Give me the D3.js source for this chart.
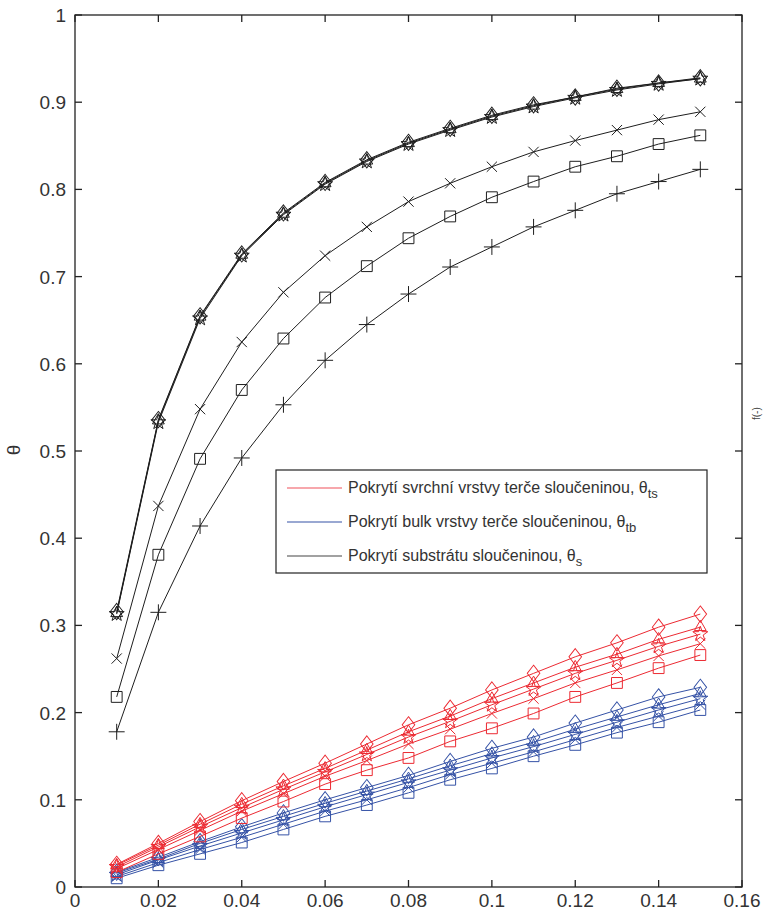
<!DOCTYPE html>
<html lang="cs">
<head>
<meta charset="UTF-8">
<title>Pokrytí sloučeninou</title>
<script src="https://d3js.org/d3.v7.min.js"></script>
<style>
  body { margin: 0; background: #fff; }
  svg { display: block; font-family: "Liberation Sans", Arial, sans-serif; }
  .tick-label { font-size: 19px; fill: #333; }
  .legend-text { font-size: 16px; fill: #333; }
</style>
</head>
<body>
<svg id="chart" width="763" height="920"></svg>
<script>
// x values (shared by every series)
const xValues = [0.01, 0.02, 0.03, 0.04, 0.05, 0.06, 0.07, 0.08, 0.09, 0.10, 0.11, 0.12, 0.13, 0.14, 0.15];

// substrate coverage (black)
const blackDiamond  = [0.316, 0.536, 0.655, 0.726, 0.773, 0.808, 0.834, 0.854, 0.870, 0.885, 0.897, 0.906, 0.916, 0.922, 0.928];
const blackTriangle = [0.314, 0.535, 0.654, 0.725, 0.772, 0.807, 0.833, 0.853, 0.869, 0.884, 0.896, 0.906, 0.915, 0.922, 0.927];
const blackStar     = [0.313, 0.533, 0.652, 0.724, 0.771, 0.806, 0.832, 0.852, 0.868, 0.883, 0.895, 0.905, 0.914, 0.921, 0.927];
const blackX        = [0.262, 0.437, 0.548, 0.625, 0.682, 0.724, 0.757, 0.786, 0.807, 0.826, 0.843, 0.856, 0.868, 0.880, 0.889];
const blackSquare   = [0.218, 0.381, 0.491, 0.570, 0.629, 0.676, 0.712, 0.744, 0.769, 0.791, 0.809, 0.826, 0.838, 0.852, 0.862];
const blackPlus     = [0.178, 0.315, 0.414, 0.492, 0.553, 0.604, 0.645, 0.680, 0.711, 0.734, 0.757, 0.776, 0.795, 0.809, 0.823];

// target top layer coverage (red)
const redDiamond  = [0.026, 0.050, 0.075, 0.099, 0.121, 0.142, 0.164, 0.186, 0.205, 0.226, 0.245, 0.264, 0.280, 0.298, 0.313];
const redTriangle = [0.025, 0.048, 0.072, 0.095, 0.116, 0.136, 0.157, 0.178, 0.196, 0.216, 0.234, 0.252, 0.267, 0.284, 0.298];
const redStar     = [0.023, 0.046, 0.069, 0.091, 0.112, 0.132, 0.152, 0.172, 0.190, 0.209, 0.227, 0.245, 0.260, 0.276, 0.290];
const redX        = [0.021, 0.043, 0.065, 0.087, 0.107, 0.127, 0.145, 0.164, 0.181, 0.199, 0.216, 0.234, 0.249, 0.265, 0.279];
const redSquare   = [0.017, 0.038, 0.058, 0.079, 0.098, 0.118, 0.134, 0.148, 0.167, 0.182, 0.199, 0.218, 0.234, 0.251, 0.266];

// target bulk coverage (blue)
const blueDiamond  = [0.017, 0.034, 0.052, 0.069, 0.085, 0.100, 0.114, 0.128, 0.144, 0.159, 0.172, 0.188, 0.203, 0.218, 0.229];
const blueTriangle = [0.016, 0.032, 0.050, 0.066, 0.081, 0.096, 0.110, 0.124, 0.139, 0.153, 0.166, 0.181, 0.195, 0.209, 0.222];
const blueStar     = [0.014, 0.031, 0.047, 0.062, 0.077, 0.092, 0.106, 0.120, 0.134, 0.148, 0.161, 0.175, 0.189, 0.203, 0.216];
const blueX        = [0.012, 0.028, 0.043, 0.057, 0.072, 0.087, 0.100, 0.114, 0.129, 0.142, 0.155, 0.169, 0.183, 0.196, 0.209];
const blueSquare   = [0.010, 0.025, 0.038, 0.051, 0.066, 0.081, 0.094, 0.108, 0.123, 0.136, 0.150, 0.163, 0.177, 0.189, 0.203];

const xTicks = [0, 0.02, 0.04, 0.06, 0.08, 0.1, 0.12, 0.14, 0.16];
const xTickLabels = ["0", "0.02", "0.04", "0.06", "0.08", "0.1", "0.12", "0.14", "0.16"];
const yTicks = [0, 0.1, 0.2, 0.3, 0.4, 0.5, 0.6, 0.7, 0.8, 0.9, 1];
const yTickLabels = ["0", "0.1", "0.2", "0.3", "0.4", "0.5", "0.6", "0.7", "0.8", "0.9", "1"];

const legendLabels = [
  ["Pokrytí svrchní vrstvy terče sloučeninou, θ", "ts"],
  ["Pokrytí bulk vrstvy terče sloučeninou, θ", "tb"],
  ["Pokrytí substrátu sloučeninou, θ", "s"]
];

const RED = "#ec2a32", BLUE = "#3552a6", BLACK = "#1e1e1e";

const series = [
  {c: BLUE, m: "diamond", v: blueDiamond},
  {c: BLUE, m: "triangle", v: blueTriangle},
  {c: BLUE, m: "star", v: blueStar},
  {c: BLUE, m: "x", v: blueX},
  {c: BLUE, m: "square", v: blueSquare},
  {c: RED, m: "diamond", v: redDiamond},
  {c: RED, m: "triangle", v: redTriangle},
  {c: RED, m: "star", v: redStar},
  {c: RED, m: "x", v: redX},
  {c: RED, m: "square", v: redSquare},
  {c: BLACK, m: "plus", v: blackPlus},
  {c: BLACK, m: "square", v: blackSquare},
  {c: BLACK, m: "x", v: blackX},
  {c: BLACK, m: "star", v: blackStar},
  {c: BLACK, m: "triangle", v: blackTriangle},
  {c: BLACK, m: "diamond", v: blackDiamond}
];

const box = {left: 75, right: 742, top: 15, bottom: 887};

const svg = d3.select("#chart");

const x = d3.scaleLinear().domain([0, 0.16]).range([box.left, box.right]);
const y = d3.scaleLinear().domain([0, 1]).range([box.bottom, box.top]);

// marker shapes
const symbols = {
  diamond: d3.symbol().type(d3.symbolDiamond2).size(140),
  triangle: d3.symbol().type(d3.symbolTriangle2).size(100),
  star: d3.symbol().type(d3.symbolStar).size(70),
  x: d3.symbol().type(d3.symbolTimes).size(70),
  square: d3.symbol().type(d3.symbolSquare2).size(150),
  plus: d3.symbol().type(d3.symbolPlus).size(85)
};

const line = d3.line().x(d => x(d[0])).y(d => y(d[1]));

const plot = svg.append("g");

series.forEach(s => {
  const pts = xValues.map((xv, i) => [xv, s.v[i]]);
  plot.append("path")
    .attr("d", line(pts))
    .attr("fill", "none")
    .attr("stroke", s.c)
    .attr("stroke-width", 1);
  plot.selectAll(null)
    .data(pts)
    .join("path")
    .attr("transform", d => `translate(${x(d[0])},${y(d[1])})` + (s.m === "diamond" ? " scale(0.85,1.1)" : ""))
    .attr("d", symbols[s.m]())
    .attr("fill", "none")
    .attr("stroke", s.c)
    .attr("stroke-width", 1);
});

// frame
svg.append("rect")
  .attr("x", box.left).attr("y", box.top)
  .attr("width", box.right - box.left).attr("height", box.bottom - box.top)
  .attr("fill", "none").attr("stroke", "#222").attr("stroke-width", 1.3);

// ticks (inward, mirrored on top and right)
const tl = 7;
const axes = svg.append("g").attr("stroke", "#222").attr("stroke-width", 1.3);
xTicks.forEach(t => {
  axes.append("line").attr("x1", x(t)).attr("x2", x(t)).attr("y1", box.bottom).attr("y2", box.bottom - tl);
  axes.append("line").attr("x1", x(t)).attr("x2", x(t)).attr("y1", box.top).attr("y2", box.top + tl);
});
yTicks.forEach(t => {
  axes.append("line").attr("x1", box.left).attr("x2", box.left + tl).attr("y1", y(t)).attr("y2", y(t));
  axes.append("line").attr("x1", box.right).attr("x2", box.right - tl).attr("y1", y(t)).attr("y2", y(t));
});

svg.append("g").selectAll("text")
  .data(xTicks)
  .join("text")
  .attr("class", "tick-label")
  .attr("x", d => x(d))
  .attr("y", box.bottom + 20)
  .attr("text-anchor", "middle")
  .text((d, i) => xTickLabels[i]);

svg.append("g").selectAll("text")
  .data(yTicks)
  .join("text")
  .attr("class", "tick-label")
  .attr("x", box.left - 9)
  .attr("y", d => y(d) + 7)
  .attr("text-anchor", "end")
  .text((d, i) => yTickLabels[i]);

// axis label
svg.append("text")
  .attr("class", "tick-label")
  .attr("transform", "translate(20,450) rotate(-90)")
  .attr("text-anchor", "middle")
  .text("θ");

// small label at right edge
svg.append("text")
  .attr("transform", "translate(760,420) rotate(-90)")
  .attr("font-size", 10)
  .attr("fill", "#444")
  .text("f(-)");

// legend
const lg = svg.append("g");
lg.append("rect")
  .attr("x", 276).attr("y", 470)
  .attr("width", 431).attr("height", 103)
  .attr("fill", "#fff").attr("stroke", "#222").attr("stroke-width", 1.2);

const legendColors = ["#f0505a", BLUE, "#444"];
legendLabels.forEach((lab, i) => {
  const ly = 488 + i * 34;
  lg.append("line")
    .attr("x1", 287).attr("x2", 342)
    .attr("y1", ly).attr("y2", ly)
    .attr("stroke", legendColors[i]).attr("stroke-width", 1.2);
  const t = lg.append("text")
    .attr("class", "legend-text")
    .attr("x", 348).attr("y", ly + 5);
  t.append("tspan").text(lab[0]);
  t.append("tspan").attr("font-size", 13).attr("dy", 5).text(lab[1]);
});
</script>
</body>
</html>
